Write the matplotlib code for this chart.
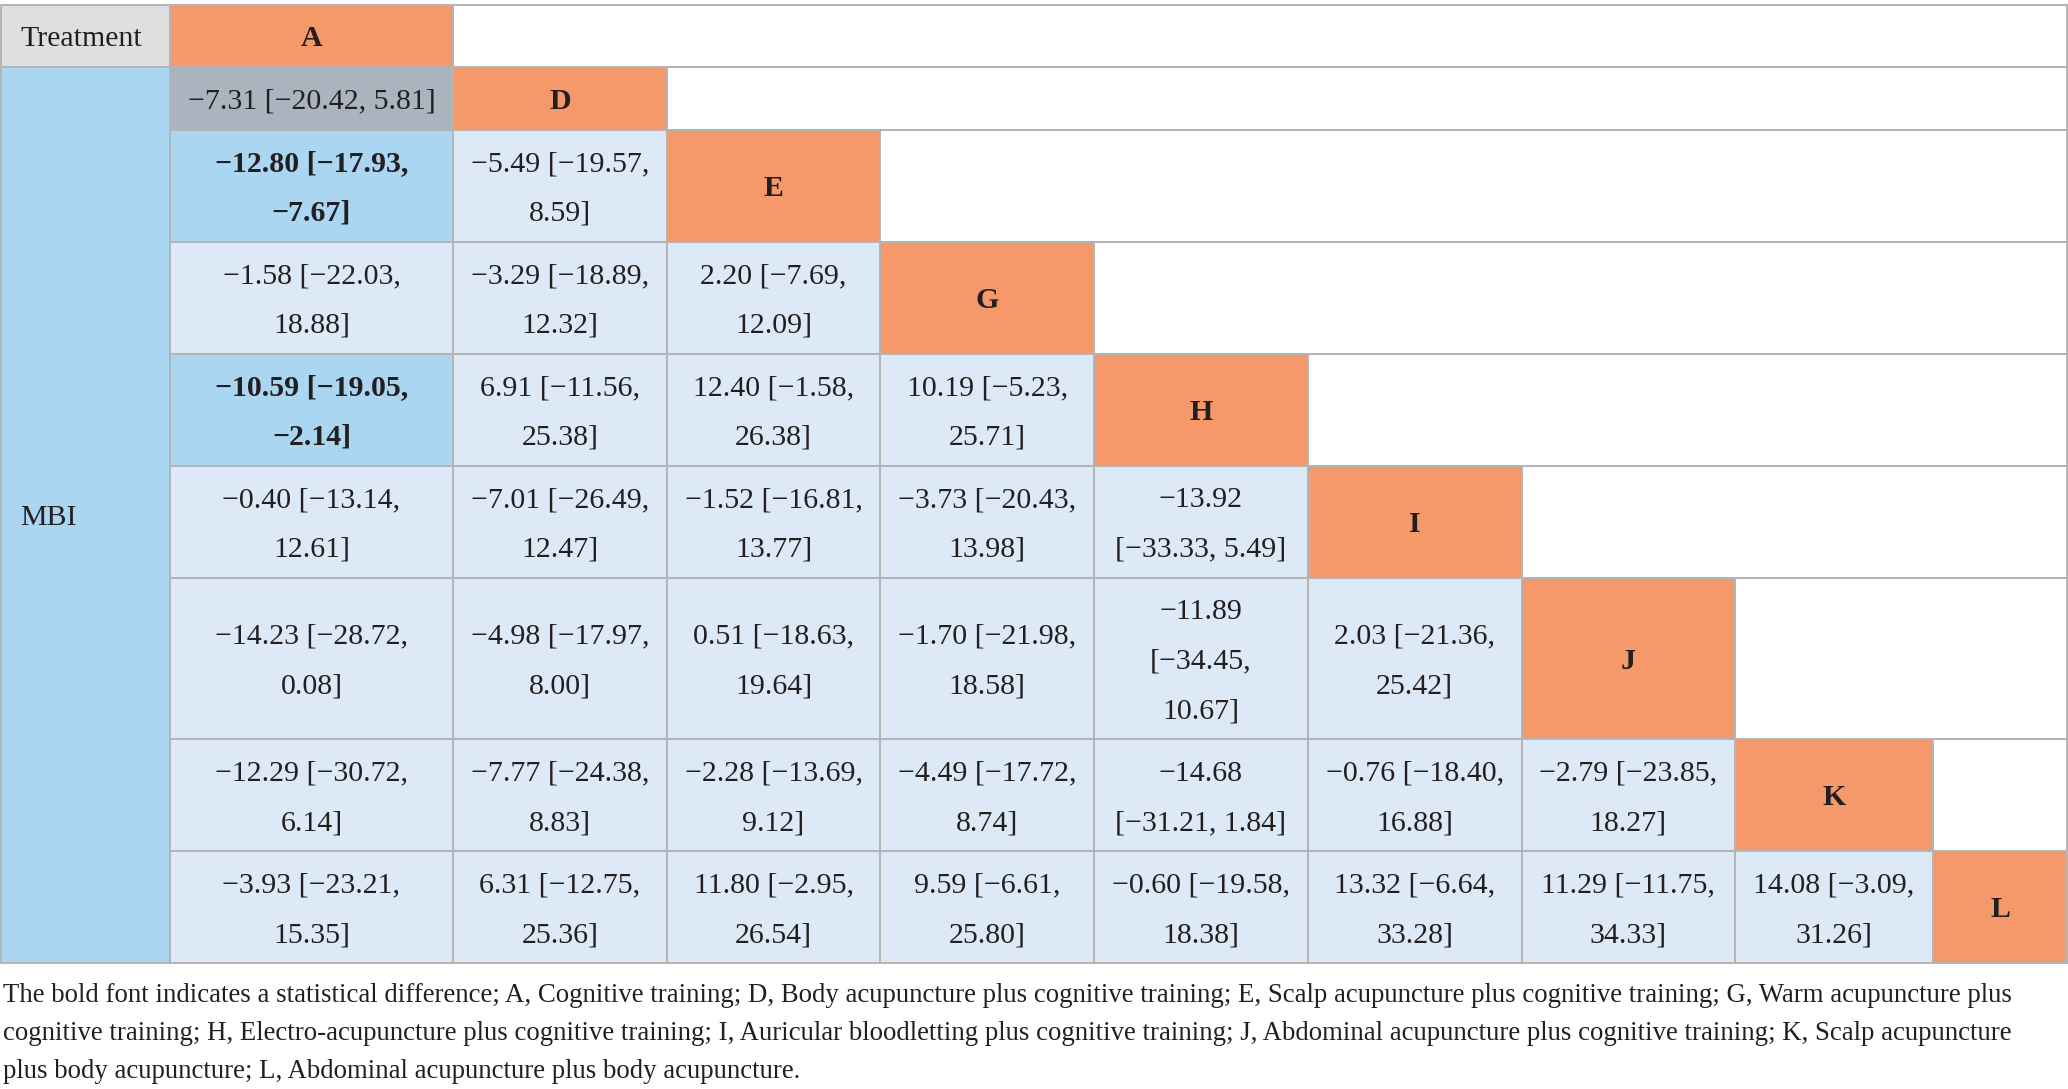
import matplotlib
matplotlib.use("Agg")
import matplotlib.pyplot as plt
from matplotlib.patches import Rectangle
from matplotlib.font_manager import FontProperties

# ---------------- data ----------------
treatments = ['A', 'D', 'E', 'G', 'H', 'I', 'J', 'K', 'L']
header_label = 'Treatment'
outcome_label = 'MBI'

# lower triangle: row treatment (D..L) vs column treatment (A..K)
est = [
    [-7.31],
    [-12.80, -5.49],
    [-1.58, -3.29, 2.20],
    [-10.59, 6.91, 12.40, 10.19],
    [-0.40, -7.01, -1.52, -3.73, -13.92],
    [-14.23, -4.98, 0.51, -1.70, -11.89, 2.03],
    [-12.29, -7.77, -2.28, -4.49, -14.68, -0.76, -2.79],
    [-3.93, 6.31, 11.80, 9.59, -0.60, 13.32, 11.29, 14.08],
]
lower = [
    [-20.42],
    [-17.93, -19.57],
    [-22.03, -18.89, -7.69],
    [-19.05, -11.56, -1.58, -5.23],
    [-13.14, -26.49, -16.81, -20.43, -33.33],
    [-28.72, -17.97, -18.63, -21.98, -34.45, -21.36],
    [-30.72, -24.38, -13.69, -17.72, -31.21, -18.40, -23.85],
    [-23.21, -12.75, -2.95, -6.61, -19.58, -6.64, -11.75, -3.09],
]
upper = [
    [5.81],
    [-7.67, 8.59],
    [18.88, 12.32, 12.09],
    [-2.14, 25.38, 26.38, 25.71],
    [12.61, 12.47, 13.77, 13.98, 5.49],
    [0.08, 8.00, 19.64, 18.58, 10.67, 25.42],
    [6.14, 8.83, 9.12, 8.74, 1.84, 16.88, 18.27],
    [15.35, 25.36, 26.54, 25.80, 18.38, 33.28, 34.33, 31.26],
]
gray_cells = [(0, 0)]  # (row index, col index) highlighted grey

caption_lines = [
    "The bold font indicates a statistical difference; A, Cognitive training; D, Body acupuncture plus cognitive training; E, Scalp acupuncture plus cognitive training; G, Warm acupuncture plus",
    "cognitive training; H, Electro-acupuncture plus cognitive training; I, Auricular bloodletting plus cognitive training; J, Abdominal acupuncture plus cognitive training; K, Scalp acupuncture",
    "plus body acupuncture; L, Abdominal acupuncture plus body acupuncture.",
]

# ---------------- style / layout ----------------
W, H = 2068, 1089
C_ORANGE = '#F5996B'
C_MBI = '#ABD6F2'
C_LIGHT = '#DDE9F6'
C_GRAY = '#AAB4BF'
C_HEAD = '#E0DFE0'
C_BORDER = '#B4B4B4'
C_TEXT = '#231F20'
FAMILY = ['Liberation Serif', 'DejaVu Serif']
FS = 21.5
FPX = FS * 100 / 72
LS = 49.5
ROW_PAD = 13
CELL_PAD = 15.5
x_left, y_top = 1.3, 4.7
label_w = 168.7
col_w = [283, 213.7, 213.7, 213.7, 213.7, 213.7, 213.7, 197.5, 134.5]

fig = plt.figure(figsize=(W / 100, H / 100), dpi=100)
ax = fig.add_axes([0, 0, 1, 1])
ax.set_xlim(0, W)
ax.set_ylim(H, 0)
ax.axis('off')
renderer = fig.canvas.get_renderer()

fp_norm = FontProperties(family=FAMILY, size=FS)
fp_bold = FontProperties(family=FAMILY, size=FS, weight='bold')


def tw(s, fp):
    return renderer.get_text_width_height_descent(s, fp, ismath=False)[0]


def fmt(v):
    return f"{v:.2f}".replace('-', '\u2212')


def wrap(s, width, fp):
    words = s.split(' ')
    lines, cur = [], words[0]
    for w in words[1:]:
        if tw(cur + ' ' + w, fp) <= width:
            cur = cur + ' ' + w
        else:
            lines.append(cur)
            cur = w
    lines.append(cur)
    return lines


col_x = [x_left + label_w]
for w in col_w:
    col_x.append(col_x[-1] + w)
x_right = col_x[-1]

# build cell texts
cells = []
for i in range(len(est)):
    row = []
    for j in range(len(est[i])):
        s = f"{fmt(est[i][j])} [{fmt(lower[i][j])}, {fmt(upper[i][j])}]"
        sig = upper[i][j] < 0 or lower[i][j] > 0
        fp = fp_bold if sig else fp_norm
        lines = wrap(s, col_w[j] - 2 * CELL_PAD, fp)
        row.append((lines, sig))
    cells.append(row)

# row heights
row_h = [ROW_PAD + LS]
for row in cells:
    n = max(len(c[0]) for c in row)
    row_h.append(ROW_PAD + LS * n)
row_y = [y_top]
for h in row_h:
    row_y.append(row_y[-1] + h)


def rect(x0, y0, x1, y1, fc):
    ax.add_patch(Rectangle((x0, y0), x1 - x0, y1 - y0, facecolor=fc,
                           edgecolor=C_BORDER, lw=1.4, zorder=1))


def put_lines(lines, cx, cy, bold=False):
    n = len(lines)
    for k, ln in enumerate(lines):
        yc = cy + (k - (n - 1) / 2) * LS
        ax.text(cx, yc + 0.338 * FPX, ln, ha='center', va='baseline',
                fontsize=FS, family=FAMILY, color=C_TEXT,
                fontweight='bold' if bold else 'normal', zorder=3)


# header row
rect(x_left, row_y[0], col_x[0], row_y[1], C_HEAD)
ax.text(x_left + 19, (row_y[0] + row_y[1]) / 2 + 0.338 * FPX, header_label,
        ha='left', va='baseline', fontsize=FS, family=FAMILY, color=C_TEXT, zorder=3)
rect(col_x[0], row_y[0], col_x[1], row_y[1], C_ORANGE)
put_lines([treatments[0]], (col_x[0] + col_x[1]) / 2, (row_y[0] + row_y[1]) / 2, bold=True)
rect(col_x[1], row_y[0], x_right, row_y[1], 'white')

# outcome column
rect(x_left, row_y[1], col_x[0], row_y[-1], C_MBI)
ax.text(x_left + 19, (row_y[1] + row_y[-1]) / 2 + 0.338 * FPX, outcome_label,
        ha='left', va='baseline', fontsize=FS, family=FAMILY, color=C_TEXT, zorder=3)

for i, row in enumerate(cells):
    y0, y1 = row_y[i + 1], row_y[i + 2]
    cy = (y0 + y1) / 2
    for j, (lines, sig) in enumerate(row):
        if (i, j) in gray_cells:
            fc = C_GRAY
        elif sig:
            fc = C_MBI
        else:
            fc = C_LIGHT
        rect(col_x[j], y0, col_x[j + 1], y1, fc)
        put_lines(lines, (col_x[j] + col_x[j + 1]) / 2, cy, bold=sig)
    d = len(row)
    rect(col_x[d], y0, col_x[d + 1], y1, C_ORANGE)
    put_lines([treatments[d]], (col_x[d] + col_x[d + 1]) / 2, cy, bold=True)
    if col_x[d + 1] < x_right - 1:
        rect(col_x[d + 1], y0, x_right, y1, 'white')

# caption
fp_cap = FontProperties(family=FAMILY, size=20)
w1 = tw(caption_lines[0], fp_cap)
cap_fs = 20 * 2010 / w1
cap_y = [993, 1031, 1069]
for ln, yy in zip(caption_lines, cap_y):
    ax.text(3, yy + 0.338 * cap_fs * 100 / 72, ln, ha='left', va='baseline',
            fontsize=cap_fs, family=FAMILY, color=C_TEXT)

fig.savefig('out.png', dpi=100)
